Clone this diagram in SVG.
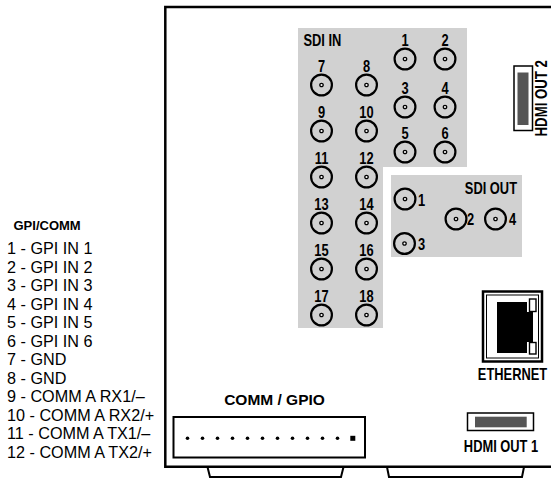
<svg xmlns="http://www.w3.org/2000/svg" xmlns:xlink="http://www.w3.org/1999/xlink" width="551" height="478" viewBox="0 0 551 478">
<style>
.n{font-family:"Liberation Sans",Arial,sans-serif;font-weight:bold;font-size:16.5px;fill:#000}
.m{text-anchor:middle}
.e{text-anchor:end}
.b{font-family:"Liberation Sans",Arial,sans-serif;font-weight:bold;fill:#000}
.r{font-family:"Liberation Sans",Arial,sans-serif;font-size:16.2px;fill:#000}
.ln{fill:none;stroke:#000}
.gray{fill:#d1d1d1;stroke:none}
</style>
<defs>
<g id="bnc"><circle r="10.4" fill="none" stroke="#000" stroke-width="2.2"/><circle r="1.7" fill="#fff" stroke="#000" stroke-width="1.3"/></g>
<circle id="dot" r="1.8" fill="#000"/>
</defs>
<rect width="551" height="478" fill="#fff"/>
<g id="chassis">
<path class="ln" stroke-width="2.5" d="M560 7H165.3V466.7H560"/>
<path class="ln" stroke-width="2" d="M207.5 467L210 477H341L343.5 467M387 467L389 477H522L524 467"/>
</g>
<g id="gpi-legend">
<text class="b" x="13.5" y="230" font-size="13">GPI/COMM</text>
<text class="r" x="7" y="254">1 - GPI IN 1</text>
<text class="r" x="7" y="272.5">2 - GPI IN 2</text>
<text class="r" x="7" y="291">3 - GPI IN 3</text>
<text class="r" x="7" y="309.5">4 - GPI IN 4</text>
<text class="r" x="7" y="328">5 - GPI IN 5</text>
<text class="r" x="7" y="346.5">6 - GPI IN 6</text>
<text class="r" x="7" y="365">7 - GND</text>
<text class="r" x="7" y="383.5">8 - GND</text>
<text class="r" x="7" y="402">9 - COMM A RX1/–</text>
<text class="r" x="7" y="420.5">10 - COMM A RX2/+</text>
<text class="r" x="7" y="439">11 - COMM A TX1/–</text>
<text class="r" x="7" y="457.5">12 - COMM A TX2/+</text>
</g>
<g id="sdi-in">
<path class="gray" d="M298 28H467V167H383V328H298Z"/>
<text class="n" transform="translate(303.5 46) scale(.78 1)">SDI IN</text>
<use xlink:href="#bnc" x="405" y="59"/><text class="n m" transform="translate(405 45.5) scale(.78 1)">1</text>
<use xlink:href="#bnc" x="445" y="59"/><text class="n m" transform="translate(445 45.5) scale(.78 1)">2</text>
<use xlink:href="#bnc" x="405" y="107"/><text class="n m" transform="translate(405 93.5) scale(.78 1)">3</text>
<use xlink:href="#bnc" x="445" y="107"/><text class="n m" transform="translate(445 93.5) scale(.78 1)">4</text>
<use xlink:href="#bnc" x="405" y="152"/><text class="n m" transform="translate(405 138.5) scale(.78 1)">5</text>
<use xlink:href="#bnc" x="445" y="152"/><text class="n m" transform="translate(445 138.5) scale(.78 1)">6</text>
<use xlink:href="#bnc" x="321.5" y="85"/><text class="n m" transform="translate(321.5 71.5) scale(.78 1)">7</text>
<use xlink:href="#bnc" x="366.5" y="85"/><text class="n m" transform="translate(366.5 71.5) scale(.78 1)">8</text>
<use xlink:href="#bnc" x="321.5" y="131"/><text class="n m" transform="translate(321.5 117.5) scale(.78 1)">9</text>
<use xlink:href="#bnc" x="366.5" y="131"/><text class="n m" transform="translate(366.5 117.5) scale(.78 1)">10</text>
<use xlink:href="#bnc" x="321.5" y="177"/><text class="n m" transform="translate(321.5 163.5) scale(.78 1)">11</text>
<use xlink:href="#bnc" x="366.5" y="177"/><text class="n m" transform="translate(366.5 163.5) scale(.78 1)">12</text>
<use xlink:href="#bnc" x="321.5" y="223"/><text class="n m" transform="translate(321.5 209.5) scale(.78 1)">13</text>
<use xlink:href="#bnc" x="366.5" y="223"/><text class="n m" transform="translate(366.5 209.5) scale(.78 1)">14</text>
<use xlink:href="#bnc" x="321.5" y="269"/><text class="n m" transform="translate(321.5 255.5) scale(.78 1)">15</text>
<use xlink:href="#bnc" x="366.5" y="269"/><text class="n m" transform="translate(366.5 255.5) scale(.78 1)">16</text>
<use xlink:href="#bnc" x="321.5" y="315"/><text class="n m" transform="translate(321.5 301.5) scale(.78 1)">17</text>
<use xlink:href="#bnc" x="366.5" y="315"/><text class="n m" transform="translate(366.5 301.5) scale(.78 1)">18</text>
</g>
<g id="sdi-out">
<rect class="gray" x="391" y="175" width="131" height="82"/>
<text class="n e" transform="translate(517 194) scale(.78 1)">SDI OUT</text>
<use xlink:href="#bnc" x="405" y="199"/><text class="n" transform="translate(418 205.5) scale(.78 1)">1</text>
<use xlink:href="#bnc" x="456" y="219"/><text class="n" transform="translate(467 225.3) scale(.78 1)">2</text>
<use xlink:href="#bnc" x="404.5" y="243.5"/><text class="n" transform="translate(418 250) scale(.78 1)">3</text>
<use xlink:href="#bnc" x="495.5" y="219"/><text class="n" transform="translate(509 225.3) scale(.78 1)">4</text>
</g>
<g id="hdmi-out-2">
<rect x="514" y="66" width="18.5" height="64.5" fill="#fff" stroke="#000" stroke-width="1.5"/>
<rect x="517.5" y="72.5" width="11" height="52.5" fill="#555"/>
<text class="n m" transform="translate(547.3 98.3) rotate(-90) scale(.8 1)" font-size="15.5">HDMI OUT 2</text>
</g>
<g id="ethernet">
<rect x="483" y="291.5" width="59" height="70" fill="#fff" stroke="#000" stroke-width="2.5"/>
<rect x="486.5" y="295" width="52" height="63" fill="none" stroke="#000" stroke-width="1"/>
<path d="M497 302H527V312H533V342H527V353H497Z" fill="#000"/>
<rect x="529.5" y="299" width="6.5" height="12.5" fill="#fff" stroke="#000" stroke-width="1.4"/>
<rect x="529.5" y="342.5" width="6.5" height="11.5" fill="#fff" stroke="#000" stroke-width="1.4"/>
<text class="n m" transform="translate(512.5 380) scale(.78 1)">ETHERNET</text>
</g>
<g id="hdmi-out-1">
<rect x="467.5" y="413" width="66" height="17.5" fill="#fff" stroke="#000" stroke-width="1.5"/>
<rect x="475" y="416.7" width="51.7" height="10.6" fill="#555"/>
<text class="n m" transform="translate(501 451.7) scale(.78 1)">HDMI OUT 1</text>
</g>
<g id="comm-gpio">
<text class="b" x="274.5" y="405" font-size="15.5" text-anchor="middle">COMM / GPIO</text>
<rect x="173.5" y="417" width="191.5" height="40.5" fill="#fff" stroke="#000" stroke-width="2"/>
<use xlink:href="#dot" x="187.5" y="438.3"/>
<use xlink:href="#dot" x="202.5" y="438.3"/>
<use xlink:href="#dot" x="217.5" y="438.3"/>
<use xlink:href="#dot" x="232.5" y="438.3"/>
<use xlink:href="#dot" x="247.5" y="438.3"/>
<use xlink:href="#dot" x="262.5" y="438.3"/>
<use xlink:href="#dot" x="277.5" y="438.3"/>
<use xlink:href="#dot" x="292.5" y="438.3"/>
<use xlink:href="#dot" x="307.5" y="438.3"/>
<use xlink:href="#dot" x="322.5" y="438.3"/>
<use xlink:href="#dot" x="337.5" y="438.3"/>
<rect x="350.3" y="435.8" width="5" height="5" fill="#000"/>
</g>
<g id="connectors"/>
</svg>
